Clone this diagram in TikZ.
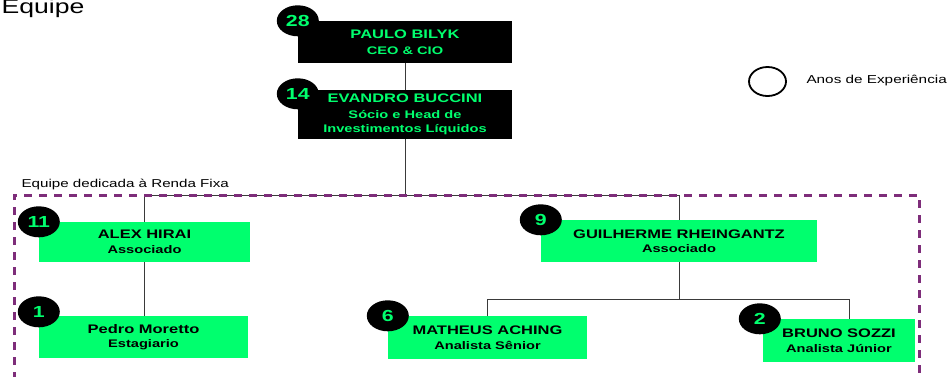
\documentclass[tikz,border=0pt]{standalone}
\usepackage{fontspec}
\setmainfont{Liberation Sans}[FakeStretch=1.33]
\usetikzlibrary{shapes.geometric,calc}
\definecolor{verde}{HTML}{00FF6E}
\definecolor{roxo}{HTML}{7E2D7A}
\definecolor{linha}{HTML}{3A3A3A}
\newcommand{\cargo}{\fontsize{11}{13}\selectfont\bfseries}
\begin{document}
\begin{tikzpicture}[x=1pt,y=-1pt,
		pessoa/.style={rectangle,fill=verde,text=black,align=center,inner sep=0pt,font=\fontsize{12.4}{14.5}\selectfont\bfseries},
		chefe/.style={pessoa,fill=black,text=verde},
		selo/.style={ellipse,fill=black,text=verde,inner sep=0pt,minimum width=42pt,minimum height=31pt,font=\fontsize{16}{16}\selectfont\bfseries},
		conector/.style={draw=linha,line width=1pt}]
			\useasboundingbox (0,0) rectangle (950,376);
			\node[anchor=base west,font=\fontsize{20}{24}\selectfont] (titulo) at (-2,13) {Equipe};
			% lideranca
			\node[chefe,minimum width=214pt,minimum height=42pt] at (405,42) (paulo) {PAULO BILYK\\[1pt]\cargo CEO \& CIO};
			\node[chefe,minimum width=214pt,minimum height=49pt] at (405,114.5) (evandro) {EVANDRO BUCCINI\\[1pt]\cargo Sócio e Head de\\\cargo Investimentos Líquidos};
			% renda fixa
			\node[pessoa,minimum width=211pt,minimum height=40pt] at (144.5,242) (alex) {ALEX HIRAI\\\cargo Associado};
			\node[pessoa,minimum width=209pt,minimum height=42pt] at (143.5,337) (pedro) {Pedro Moretto\\\cargo Estagiario};
			\node[pessoa,minimum width=276pt,minimum height=42pt] at (679,241) (guilherme) {GUILHERME RHEINGANTZ\\\cargo Associado};
			\node[pessoa,minimum width=199pt,minimum height=43pt] at (487.5,337.5) (matheus) {MATHEUS ACHING\\\cargo Analista Sênior};
			\node[pessoa,minimum width=152pt,minimum height=43pt] at (839,340.5) (bruno) {BRUNO SOZZI\\\cargo Analista Júnior};
			% ligacoes
			\coordinate (barra) at (403,195);
			\coordinate (ramo) at (487,299);
			\coordinate (bruno-topo) at ($(bruno.north)+(10,0)$);
			\draw[conector] (paulo) -- (evandro);
			\draw[conector] (evandro) -- (evandro |- barra);
			\draw[conector] (alex.north) -- (alex.north |- barra) -- (guilherme.north |- barra) -- (guilherme.north);
			\draw[conector] (alex) -- (alex |- pedro.north);
			\draw[conector] (guilherme) -- (guilherme.south |- ramo);
			\draw[conector] (matheus.north) |- (bruno-topo |- ramo) -- (bruno-topo);
			% equipe dedicada
			\draw[roxo,line width=3pt,dash pattern=on 8pt off 7pt] (14,380) -- (14,195) -- (919,195) -- (919,380);
			\node[anchor=base west,font=\fontsize{11.4}{13}\selectfont] (grupo) at (18,187) {Equipe dedicada à Renda Fixa};
			% anos de experiencia
			\node[selo] at (paulo.north west) (selo-paulo) {28};
			\node[selo] at ([yshift=-4pt]evandro.north west) (selo-evandro) {14};
			\node[selo] at (alex.north west) (selo-alex) {11};
			\node[selo] at ([yshift=4pt]pedro.north west) (selo-pedro) {1};
			\node[selo] at (guilherme.north west) (selo-guilherme) {9};
			\node[selo] at (matheus.north west) (selo-matheus) {6};
			\node[selo] at ([xshift=-3pt]bruno.north west) (selo-bruno) {2};
			% legenda
			\node[draw,ellipse,line width=1.8pt,minimum width=37pt,minimum height=29pt,inner sep=0pt] at (767.5,81.5) (legenda) {};
			\node[anchor=west,font=\fontsize{11.5}{13}\selectfont] at (803,81) (legenda-texto) {Anos de Experiência};
		\end{tikzpicture}
\end{document}
